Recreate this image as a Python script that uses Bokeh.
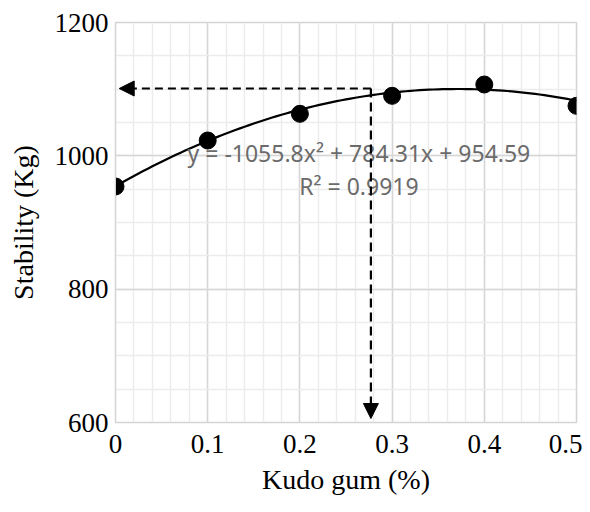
import numpy as np
from bokeh.plotting import figure
from bokeh.models import FixedTicker, Range1d, Arrow, NormalHead
from bokeh.core.properties import value
from bokeh.embed import file_html
from bokeh.resources import INLINE

# ---- data ----
gum_pct = [0.0, 0.1, 0.2, 0.3, 0.4, 0.5]
stability = [954, 1023, 1063, 1090, 1107, 1075]
fit_coeffs = [-1055.8, 784.31, 954.59]
x_ticks = [0, 0.1, 0.2, 0.3, 0.4, 0.5]
y_ticks = [600, 800, 1000, 1200]
x_minor = [round(i * 0.02, 2) for i in range(26)]
y_minor = list(range(600, 1201, 50))
optimum_x = 0.277
optimum_y = 1101
eq_lines = ["y = -1055.8x\u00b2 + 784.31x + 954.59", "R\u00b2 = 0.9919"]
eq_x = [0.264, 0.264]
eq_y = [1004, 955]

p = figure(frame_width=461, frame_height=400, output_backend="svg", toolbar_location=None,
           x_range=Range1d(0, 0.5), y_range=Range1d(600, 1200),
           min_border_left=115, min_border_top=22, min_border_right=6, min_border_bottom=74)
p.background_fill_color = "white"
p.border_fill_color = "white"
p.outline_line_color = "#d4d4d4"
p.outline_line_width = 1.5

p.xaxis.ticker = FixedTicker(ticks=x_ticks, minor_ticks=x_minor)
p.yaxis.ticker = FixedTicker(ticks=y_ticks, minor_ticks=y_minor)
p.xaxis.major_label_overrides = {0: "0"}

for ax in (p.xaxis, p.yaxis):
    ax.axis_line_color = "#d4d4d4"
    ax.major_tick_line_color = None
    ax.minor_tick_line_color = None
    ax.major_tick_out = 0
    ax.major_tick_in = 0
    ax.minor_tick_out = 0
    ax.minor_tick_in = 0
    ax.major_label_text_font = "Liberation Serif"
    ax.major_label_text_font_size = "27px"
    ax.major_label_text_color = "black"
    ax.axis_label_text_font = "Liberation Serif"
    ax.axis_label_text_font_size = "28px"
    ax.axis_label_text_font_style = "normal"
    ax.axis_label_text_color = "black"

p.xaxis.axis_label = "Kudo gum (%)"
p.yaxis.axis_label = "Stability (Kg)"
p.xaxis.major_label_standoff = 12
p.yaxis.major_label_standoff = 7
p.xaxis.axis_label_standoff = 8
p.yaxis.axis_label_standoff = 13

p.xgrid.grid_line_color = "#d6d6d6"
p.ygrid.grid_line_color = "#d6d6d6"
p.xgrid.grid_line_width = 1.5
p.ygrid.grid_line_width = 1.5
p.xgrid.minor_grid_line_color = "#ececec"
p.ygrid.minor_grid_line_color = "#ececec"
p.xgrid.minor_grid_line_width = 1.5
p.ygrid.minor_grid_line_width = 1.5

# trendline from the displayed fit equation
xs = np.linspace(gum_pct[0], gum_pct[-1], 101)
ys = np.polyval(fit_coeffs, xs)
p.line(xs, ys, line_color="black", line_width=2.2)

p.scatter(gum_pct, stability, size=17, fill_color="black", line_color="black")

# dashed arrows marking the optimum
p.add_layout(Arrow(end=NormalHead(size=15, fill_color="black", line_color="black"),
                   x_start=optimum_x, y_start=optimum_y, x_end=0.004, y_end=optimum_y,
                   line_color="black", line_width=2.2, line_dash="8 5"))
p.add_layout(Arrow(end=NormalHead(size=15, fill_color="black", line_color="black"),
                   x_start=optimum_x, y_start=optimum_y, x_end=optimum_x, y_end=606,
                   line_color="black", line_width=2.2, line_dash="9 5"))

p.text(x=eq_x, y=eq_y, text=eq_lines, text_font=value("Noto Sans"), text_font_size="23px",
       text_align="center", text_baseline="middle", text_color="#6b6b6b")

open("out.html", "w").write(file_html(p, INLINE))
